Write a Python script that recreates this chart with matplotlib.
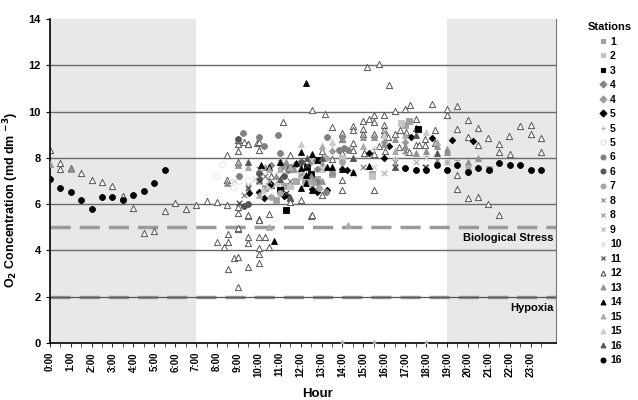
import numpy as np
import matplotlib
matplotlib.use("Agg")
import matplotlib.pyplot as plt
from matplotlib.lines import Line2D

plt.rcParams['font.family'] = ['Liberation Sans', 'DejaVu Sans']
plt.rcParams['mathtext.default'] = 'bf'

# hours for the tick labels
hour_labels = ["%d:00" % h for h in range(24)]

# station 16 (black circles)
s16b_t = [0, 0.5, 1, 1.5, 2, 2.5, 3, 3.5, 4, 4.5, 5, 5.5,
          17, 17.5, 18, 18.5, 19, 19.5, 20, 20.5, 21, 21.5, 22, 22.5, 23, 23.5]
s16b_v = [7.08, 6.68, 6.51, 6.19, 5.80, 6.29, 6.29, 6.2, 6.41, 6.58, 6.9, 7.47,
          7.57, 7.47, 7.47, 7.69, 7.47, 7.69, 7.4, 7.58, 7.47, 7.79, 7.69, 7.69, 7.47, 7.47]

# station 12 (open triangles)
s12_t = [0, 0.5, 0.5, 1.0, 1.5, 2.0, 2.5, 3.0, 3.5, 4.0, 4.5, 5.0, 5.5, 6.0, 6.5, 7.0, 7.5, 8.0, 8.5,
         8.48, 9.0, 9.0, 9.0, 9.5, 9.3, 9.92, 10.0, 8.48, 9.01, 9.01, 9.49, 9.01, 10.0, 10.0, 10.29,
         9.49, 9.49, 8.53, 8.0, 8.53, 8.33, 8.8, 9.01, 8.53, 9.49, 10.0, 10.0, 10.0, 10.51, 9.01,
         12.0, 12.5, 10.99, 11.5, 10.6, 10.6, 11.5, 11.5, 11.18, 9.0, 9.49, 10.0, 10.5, 10.0, 9.5, 9.0,
         15.19, 15.74, 16.25, 12.52, 13.16, 16.5, 16.98, 17.25, 18.26, 19.0, 19.0, 13.51, 14.5,
         15.0, 15.27, 15.5, 15.0, 15.0, 15.5, 15.5, 15.98, 15.98, 15.98, 15.98, 13.99, 13.99, 14.5,
         14.5, 14.5, 16.5, 16.73, 17.02, 17.5, 17.5, 17.5, 17.97, 17.97, 18.45, 18.45, 15.74, 16.2,
         16.7, 17.17, 17.65, 15.04, 15.5, 16.03, 12.52, 13.0, 13.5, 13.99, 13.0, 13.99, 13.99, 15.5,
         13.0, 12.52,
         19.5, 19.5, 20.02, 20.5, 20.02, 20.5, 20.97, 21.5, 21.5, 21.96, 22.48, 23.0, 23.0, 23.5,
         23.5, 22.0, 19.5, 19.5, 20.02, 20.5, 20.97, 21.5]
s12_v = [8.34, 7.76, 7.5, 7.56, 7.36, 7.03, 6.95, 6.78, 6.35, 5.83, 4.74, 4.82, 5.69, 6.03, 5.78, 5.95, 6.15, 6.09, 5.96,
         8.12, 8.29, 7.83, 8.62, 8.62, 8.7, 8.65, 8.34, 7.04, 5.89, 5.63, 5.49, 4.93, 5.34, 4.56, 4.56,
         4.6, 4.33, 4.73, 4.36, 4.36, 4.16, 3.66, 3.7, 3.18, 3.3, 4.09, 3.84, 3.44, 4.16, 2.43,
         6.18, 5.49, 7.83, 8.12, 7.2, 6.84, 6.25, 6.1, 9.56, 4.95, 5.52, 5.3, 5.59, 8.7, 8.6, 8.77,
         11.94, 12.04, 11.14, 10.06, 9.9, 10.03, 10.12, 10.28, 10.32, 10.1, 9.84, 9.34, 9.37,
         9.6, 9.7, 9.85, 9.24, 9.03, 9.56, 9.03, 9.85, 9.42, 9.2, 9.03, 9.06, 8.8, 9.2,
         8.63, 8.34, 9.04, 9.2, 9.1, 9.68, 9.3, 8.54, 8.82, 8.54, 9.2, 8.64, 8.5, 8.88,
         8.45, 8.26, 8.54, 8.19, 8.16, 8.3, 7.9, 8.3, 7.97, 8.2, 7.6, 7.04, 6.6, 6.6,
         6.38, 5.52,
         10.24, 9.23, 9.63, 9.27, 8.9, 8.55, 8.84, 8.6, 8.27, 8.94, 9.37, 9.42, 9.03, 8.84,
         8.27, 8.17, 7.26, 6.64, 6.25, 6.32, 5.99, 5.53]

s14_t = [12.27, 12.0, 12.52, 11.76, 12.0, 12.27, 12.27, 12.52, 12.0, 13.27, 13.51, 13.96, 14.5, 15.26, 10.08, 10.72, 11.0, 10.5]
s14_v = [11.25, 8.25, 8.18, 7.77, 7.55, 7.26, 6.91, 6.6, 6.68, 7.62, 7.62, 7.5, 7.4, 7.65, 7.69, 4.42, 7.8, 7.6]

s5_t = [9.52, 10.03, 10.24, 10.56, 11.2, 11.3, 12.55, 12.79, 13.27, 14.22, 15.26, 16.22, 17.26, 18.26, 19.25, 20.26, 16.0, 14.0]
s5_v = [6.46, 6.53, 6.25, 6.87, 6.35, 6.4, 6.67, 6.53, 6.6, 7.48, 8.2, 8.51, 8.9, 8.87, 8.77, 8.74, 8.0, 7.5]

s3_t = [12.3, 12.8, 17.6, 11.3, 12.5, 11.0]
s3_v = [7.6, 7.9, 9.23, 5.74, 7.3, 6.6]

s6_t = [9.25, 10.0, 10.27, 10.93, 11.0, 9.04, 11.4, 11.76, 12.55, 12.8, 13.19, 13.27, 13.83, 14.07, 14.27]
s6_v = [9.06, 8.88, 8.51, 8.98, 8.2, 7.2, 7.47, 7.73, 7.97, 6.96, 6.53, 8.9, 8.34, 8.41, 8.34]
s6b_t = [9.0, 10.03, 10.03, 9.28, 11.5, 12.0, 11.2, 9.5]
s6b_v = [8.8, 7.33, 7.1, 5.92, 7.6, 7.8, 7.2, 6.0]
s7_t = [12.6, 12.9, 11.8, 13.2, 10.6, 11.0, 14.0]
s7_v = [6.9, 6.7, 7.0, 8.0, 6.3, 6.5, 7.8]
s5c_t = [7.99, 8.26, 8.6, 8.8, 9.05, 9.5, 10.2]
s5c_v = [7.2, 7.7, 6.9, 6.7, 6.98, 7.0, 7.0]

s13_t = [9.0, 8.48, 10.3, 10.8, 11.3, 11.7, 12.5, 13.0, 13.5, 14.0, 14.5, 15.0, 15.5, 16.0, 16.5,
         17.0, 17.5, 18.0, 18.5, 19.0, 19.0, 20.0, 20.5, 0, 1.0]
s13_v = [7.7, 6.9, 7.6, 7.2, 7.8, 7.5, 7.2, 7.0, 7.4, 8.8, 8.0, 8.9, 8.9, 8.6, 8.8,
         8.5, 8.2, 8.3, 8.5, 8.37, 8.27, 7.8, 8.0, 7.72, 7.5]
s15_t = [10.5, 11.0, 11.5, 12.5, 13.0, 14.0, 15.5, 18.0, 15.0, 16.5, 17.0, 18.5, 20.0, 9.5, 10.0, 10.5, 14.26]
s15_v = [7.5, 7.5, 7.6, 7.0, 8.5, 0.0, 0.0, 0.0, 8.5, 8.3, 9.0, 8.7, 7.6, 7.6, 6.4, 5.0, 5.1]
s15b_t = [10.2, 10.8, 12.0, 13.5, 16.0, 18.0]
s15b_v = [6.6, 6.9, 8.6, 8.7, 9.0, 9.1]
s16_t = [11.0, 11.5, 12.3, 13.0, 14.5, 16.5, 17.5, 18.5, 9.5]
s16_v = [7.1, 6.3, 8.0, 8.0, 8.0, 7.6, 9.0, 8.2, 7.8]

s1_t = [10.3, 10.8, 11.2, 11.8, 12.2, 15.4, 17.2, 17.0, 21.0, 13.5, 12.8]
s1_v = [6.7, 6.2, 6.8, 7.0, 7.0, 7.3, 9.6, 9.4, 7.5, 7.3, 7.1]
s2_t = [10.0, 10.5, 11.5, 12.0, 15.4, 16.8, 14.0, 13.0]
s2_v = [7.0, 6.8, 6.8, 7.2, 7.2, 9.5, 8.0, 7.5]

s4_t = [10.56, 11.04, 11.44, 12.8, 14.0]
s4_v = [7.69, 7.55, 7.55, 7.5, 8.9]
s4b_t = [11.2, 12.5, 13.5, 16.0, 17.0]
s4b_v = [7.7, 7.8, 8.3, 8.7, 8.7]
s5b_t = [11.0, 13.5, 15.5, 17.0, 18.0, 19.0, 19.5, 16.5]
s5b_v = [7.9, 8.6, 8.4, 8.2, 8.1, 7.8, 7.9, 8.0]

s8_t = [10.0, 10.3, 11.5, 12.5, 15.0, 17.0, 18.5, 9.3]
s8_v = [7.5, 7.2, 7.0, 7.1, 7.6, 8.3, 7.9, 6.4]
s8b_t = [10.5, 12.0, 13.0, 16.5, 18.0, 20.0]
s8b_v = [7.0, 7.3, 7.8, 7.8, 7.6, 7.5]
s9_t = [9.5, 11.0, 14.5, 16.0, 17.5, 19.0]
s9_v = [6.8, 6.9, 7.3, 7.35, 7.8, 7.8]
s10_t = [8.8, 9.8, 12.5, 15.5, 18.0]
s10_v = [7.0, 7.1, 7.9, 7.6, 8.0]
s11_t = [9.04, 9.5, 10.0, 12.3, 16.5, 17.97, 11.3]
s11_v = [6.03, 6.7, 7.0, 7.7, 7.6, 7.6, 6.5]

# legend order: (label, t, v, marker, face, edge)
stations = [
    ("1", s1_t, s1_v, "s", "#a0a0a0", "#a0a0a0"),
    ("2", s2_t, s2_v, "s", "#c4c4c4", "#c4c4c4"),
    ("3", s3_t, s3_v, "s", "#000000", "#000000"),
    ("4", s4_t, s4_v, "D", "#858585", "#858585"),
    ("4", s4b_t, s4b_v, "D", "#9a9a9a", "#9a9a9a"),
    ("5", s5_t, s5_v, "D", "#000000", "#000000"),
    ("5", s5b_t, s5b_v, "+", "#b0b0b0", "#b0b0b0"),
    ("5", s5c_t, s5c_v, "o", "none", "#e0e0e0"),
    ("6", s6_t, s6_v, "o", "#808080", "#808080"),
    ("6", s6b_t, s6b_v, "o", "#555555", "#555555"),
    ("7", s7_t, s7_v, "o", "#a6a6a6", "#a6a6a6"),
    ("8", s8_t, s8_v, "x", "#808080", "#808080"),
    ("8", s8b_t, s8b_v, "x", "#959595", "#959595"),
    ("9", s9_t, s9_v, "x", "#b4b4b4", "#b4b4b4"),
    ("10", s10_t, s10_v, "x", "#d8d8d8", "#d8d8d8"),
    ("11", s11_t, s11_v, "x", "#404040", "#404040"),
    ("12", s12_t, s12_v, "^", "white", "#555555"),
    ("13", s13_t, s13_v, "^", "#909090", "#909090"),
    ("14", s14_t, s14_v, "^", "#000000", "#000000"),
    ("15", s15_t, s15_v, "^", "#ababab", "#ababab"),
    ("15", s15b_t, s15b_v, "^", "#cccccc", "#cccccc"),
    ("16", s16_t, s16_v, "^", "#555555", "#555555"),
    ("16", s16b_t, s16b_v, "o", "#000000", "#000000"),
]

fig = plt.figure(figsize=(6.38, 4.0), dpi=100)
ax = fig.add_axes([0.078, 0.1425, 0.793, 0.81])

ax.axvspan(0, 7, color="#e8e8e8", zorder=0, lw=0)
ax.axvspan(19, 24.2, color="#e8e8e8", zorder=0, lw=0)

for y in [4, 6, 8, 10, 12]:
    ax.axhline(y, color="#6a6a6a", lw=1.0, zorder=1)
ax.axhline(5, color="#9a9a9a", lw=2.5, dashes=(5.8, 2.6), zorder=1)
ax.axhline(2, color="#9a9a9a", lw=2.5, dashes=(5.8, 2.6), zorder=1)
ax.axhline(2, color="#555555", lw=0.9, zorder=1.5)

handles = []
labels = []
for lab, t, v, mk, fc, ec in stations:
    if mk in ("x", "+"):
        ax.scatter(t, v, marker=mk, s=16, c=ec, linewidths=0.9, zorder=3)
    elif fc == "white":
        ax.scatter(t, v, marker=mk, s=20, facecolors="white", edgecolors=ec, linewidths=0.7, zorder=2.5)
    else:
        sz = 11 if mk == "D" else 18
        ax.scatter(t, v, marker=mk, s=sz, facecolors=fc, edgecolors=ec, linewidths=0.6, zorder=3)
    handles.append(Line2D([], [], ls="none", marker=mk, markersize=3.5,
                          markerfacecolor=fc, markeredgecolor=ec, markeredgewidth=0.8))
    labels.append(lab)

ax.text(24.1, 4.55, "Biological Stress", ha="right", va="center", fontsize=8, fontweight="bold")
ax.text(24.1, 1.5, "Hypoxia", ha="right", va="center", fontsize=8, fontweight="bold")

ax.set_xlim(0, 24.2)
ax.set_ylim(0, 14)
ax.set_yticks(range(0, 15, 2))
ax.set_xticks(range(24))
ax.set_xticklabels(hour_labels, rotation=90, fontsize=7, fontweight="bold")
ax.set_xticks(np.arange(0.5, 24, 1), minor=True)
ax.tick_params(axis="x", which="both", direction="out", length=3, color="#333333")
ax.tick_params(axis="y", direction="out", length=3, labelsize=8)
for lbl in ax.get_yticklabels():
    lbl.set_fontweight("bold")

ax.spines["top"].set_visible(False)
ax.spines["right"].set_color("#777777")
ax.spines["left"].set_linewidth(1.2)
ax.spines["bottom"].set_linewidth(1.2)

ax.set_xlabel("Hour", fontsize=9.5, fontweight="bold")
ax.xaxis.set_label_coords(0.53, -0.138)
ax.set_ylabel(r"O$_2$ Concentration (md dm $^{-3}$)", fontsize=9, fontweight="bold")
ax.yaxis.set_label_coords(-0.057, 0.44)

leg = fig.legend(handles, labels, loc="upper left", bbox_to_anchor=(0.915, 0.955),
                 frameon=False, title="Stations", fontsize=7.5, labelspacing=0.43,
                 handlelength=0.8, handletextpad=0.3, borderaxespad=0,
                 title_fontproperties={"weight": "bold", "size": 8})
for txt in leg.get_texts():
    txt.set_fontweight("bold")

fig.savefig("out.png", dpi=100)
